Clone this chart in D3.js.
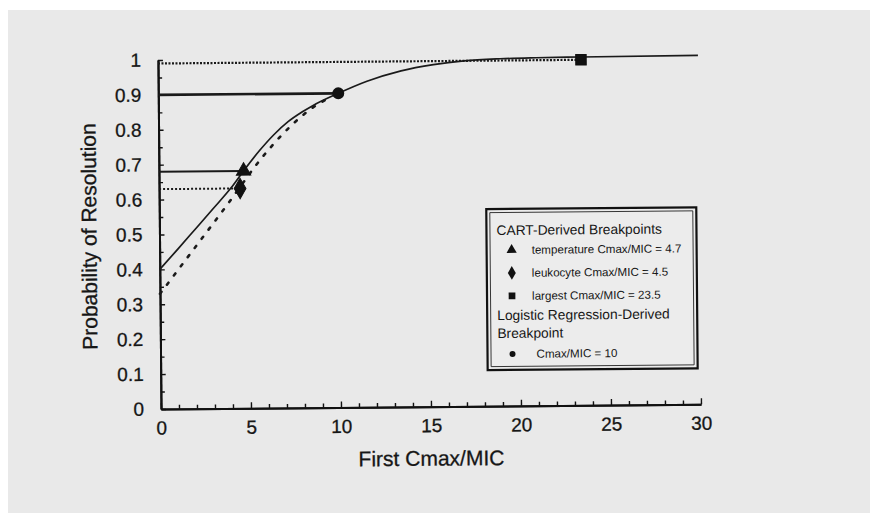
<!DOCTYPE html>
<html>
<head>
<meta charset="utf-8">
<script src="https://cdn.jsdelivr.net/npm/d3@7"></script>
<style>
  body { margin: 0; background: #fff; }
  text { font-family: "Liberation Sans", Arial, sans-serif; fill: #161616; }
</style>
</head>
<body>
<div id="chart"></div>
<script>
const width = 870
const height = 515

// solid curve (logistic fit)
const solidX = [0, 1, 2, 3, 4, 4.7, 5.6, 6.4, 7.2, 8, 8.6, 10, 11.6, 13.5, 15.3, 17, 19, 21, 23.5, 30]
const solidY = [0.40, 0.457, 0.515, 0.573, 0.632, 0.68, 0.738, 0.783, 0.82, 0.848, 0.866, 0.90, 0.934, 0.963, 0.98, 0.99, 0.995, 0.997, 0.998, 1.0]
// dotted curve
const dottedX = [0, 1, 2, 3, 3.8, 4.5, 5.3, 6.2, 7.5, 8.5, 9.6]
const dottedY = [0.33, 0.397, 0.464, 0.531, 0.585, 0.634, 0.69, 0.746, 0.815, 0.857, 0.89]

// breakpoints
const cartLabels = ["temperature Cmax/MIC = 4.7", "leukocyte Cmax/MIC = 4.5", "largest Cmax/MIC = 23.5"]
const cartX = [4.7, 4.5, 23.5]
const cartY = [0.68, 0.63, 0.99]
const logitLabels = ["Cmax/MIC = 10"]
const logitX = [10]
const logitY = [0.9]

const xTicks = [0, 5, 10, 15, 20, 25, 30]
const yTicks = [0, 0.1, 0.2, 0.3, 0.4, 0.5, 0.6, 0.7, 0.8, 0.9, 1]

const svg = d3.select("div#chart").append("svg").attr("width", width).attr("height", height)

// scanned page background
svg.append("rect").attr("x", 8).attr("y", 10).attr("width", width - 8).attr("height", 503).attr("fill", "#e9e9e9")

const g = svg.append("g").attr("transform", "rotate(-0.5 161 409)")

const x = d3.scaleLinear().domain([0, 30]).range([161, 701])
const y = d3.scaleLinear().domain([0, 1]).range([409, 60])

// axes
const xAxis = d3.axisBottom(x).tickValues(xTicks).tickSize(-6).tickSizeOuter(0).tickPadding(12).tickFormat(d3.format("d"))
const xMinor = d3.axisBottom(x).tickValues(d3.range(1, 31).filter(d => d % 5 != 0)).tickSize(-4).tickSizeOuter(0).tickFormat("")
const yAxis = d3.axisLeft(y).tickValues(yTicks).tickSize(-5).tickSizeOuter(0).tickPadding(17).tickFormat(d => d == 0 || d == 1 ? d : d3.format(".1f")(d))
const yMinor = d3.axisLeft(y).tickValues(d3.range(0.05, 1, 0.1)).tickSize(-4).tickSizeOuter(0).tickFormat("")

const xg = g.append("g").attr("transform", `translate(0, ${y(0)})`).call(xAxis)
g.append("g").attr("transform", `translate(0, ${y(0)})`).call(xMinor)
const yg = g.append("g").attr("transform", `translate(${x(0)}, 0)`).call(yAxis)
g.append("g").attr("transform", `translate(${x(0)}, 0)`).call(yMinor)

g.selectAll(".domain").attr("stroke", "#111").attr("stroke-width", 2)
g.selectAll(".tick line").attr("stroke", "#111").attr("stroke-width", 1.4)
xg.selectAll("text").style("font-size", "19px").attr("font-family", null).attr("stroke", "#161616").attr("stroke-width", 0.3)
yg.selectAll("text").style("font-size", "19px").attr("font-family", null).attr("stroke", "#161616").attr("stroke-width", 0.3)

// axis titles
g.append("text").attr("x", 431).attr("y", 468).attr("text-anchor", "middle")
    .style("font-size", "21px").attr("stroke", "#161616").attr("stroke-width", 0.3).text("First Cmax/MIC")
g.append("text").attr("transform", "translate(98, 236) rotate(-90)").attr("text-anchor", "middle")
    .style("font-size", "21px").attr("stroke", "#161616").attr("stroke-width", 0.3).text("Probability of Resolution")

// reference lines from the y axis to each breakpoint
const refStyles = [
    { w: 2, dash: null },
    { w: 2, dash: "2,2" },
    { w: 2.2, dash: "2,1.5" }
]
cartX.forEach((bx, i) => {
    g.append("line").attr("x1", x(0)).attr("x2", x(bx)).attr("y1", y(cartY[i])).attr("y2", y(cartY[i]))
        .attr("stroke", "#1a1a1a").attr("stroke-width", refStyles[i].w).attr("stroke-dasharray", refStyles[i].dash)
})
logitX.forEach((bx, i) => {
    g.append("line").attr("x1", x(0)).attr("x2", x(bx)).attr("y1", y(logitY[i])).attr("y2", y(logitY[i]))
        .attr("stroke", "#1a1a1a").attr("stroke-width", 2.6)
})

// curves
const line = d3.line().x(d => x(d[0])).y(d => y(d[1])).curve(d3.curveMonotoneX)

g.append("path").attr("d", line(dottedX.map((d, i) => [d, dottedY[i]])))
    .attr("fill", "none").attr("stroke", "#1a1a1a").attr("stroke-width", 2.6)
    .attr("stroke-dasharray", "2.5,9").attr("stroke-linecap", "round")

g.append("path").attr("d", line(solidX.map((d, i) => [d, solidY[i]])))
    .attr("fill", "none").attr("stroke", "#1a1a1a").attr("stroke-width", 1.7)

// markers
const cartSymbols = [d3.symbolTriangle, d3.symbolDiamond, d3.symbolSquare]
const plotSizes = [90, 120, 110]
cartX.forEach((bx, i) => {
    g.append("path").attr("d", d3.symbol(cartSymbols[i], plotSizes[i])())
        .attr("transform", `translate(${x(bx)}, ${y(cartY[i])})`)
        .attr("fill", "#111").attr("stroke", "#111").attr("stroke-width", 1)
})
logitX.forEach((bx, i) => {
    g.append("circle").attr("cx", x(bx)).attr("cy", y(logitY[i])).attr("r", 6).attr("fill", "#111")
})

// legend
const legend = g.append("g").attr("transform", "translate(488, 212)")
legend.append("rect").attr("x", 0).attr("y", 0).attr("width", 210).attr("height", 161)
    .attr("fill", "#ececec").attr("stroke", "#111").attr("stroke-width", 2.2)
legend.append("rect").attr("x", 3.5).attr("y", 3.5).attr("width", 203).attr("height", 154)
    .attr("fill", "none").attr("stroke", "#222").attr("stroke-width", 0.9)

legend.append("text").attr("x", 10).attr("y", 26).style("font-size", "13.8px").text("CART-Derived Breakpoints")
const legSizes = [45, 55, 45]
cartLabels.forEach((lab, i) => {
    const cy = 41 + i * 23
    legend.append("path").attr("d", d3.symbol(cartSymbols[i], legSizes[i])())
        .attr("transform", `translate(25, ${cy})`).attr("fill", "#111")
    legend.append("text").attr("x", 45).attr("y", cy + 4).style("font-size", "11.6px").text(lab)
})
legend.append("text").attr("x", 10).attr("y", 111).style("font-size", "13.8px").text("Logistic Regression-Derived")
legend.append("text").attr("x", 10).attr("y", 129).style("font-size", "13.8px").text("Breakpoint")
logitLabels.forEach((lab, i) => {
    const cy = 145 + i * 20
    legend.append("circle").attr("cx", 25).attr("cy", cy).attr("r", 3).attr("fill", "#111")
    legend.append("text").attr("x", 49).attr("y", cy + 4).style("font-size", "11.6px").text(lab)
})
</script>
</body>
</html>
